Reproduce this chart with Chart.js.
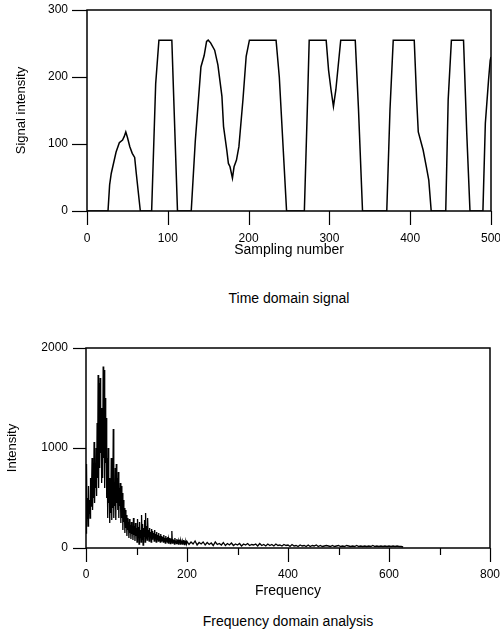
<!DOCTYPE html>
<html>
<head>
<meta charset="utf-8">
<script src="https://cdn.jsdelivr.net/npm/chart.js@4.4.0/dist/chart.umd.min.js"></script>
<style>
  body { margin: 0; background: #fff; width: 500px; height: 635px; position: relative; overflow: hidden;
         font-family: "Liberation Sans", Arial, sans-serif; }
  #timeChart { position: absolute; left: 0; top: 0; }
  #freqChart { position: absolute; left: 0; top: 330px; }
  .cap { position: absolute; font-size: 14px; line-height: 16px; color: #000; text-align: center; width: 404px; }
</style>
</head>
<body>
<canvas id="timeChart" width="500" height="260"></canvas>
<div class="cap" style="left:87px; top:290px;">Time domain signal</div>
<canvas id="freqChart" width="500" height="270"></canvas>
<div class="cap" style="left:86px; top:613px;">Frequency domain analysis</div>

<script>
// ==========================================
// 1. data
// ==========================================
// time domain: sampling number -> signal intensity (breakpoints of the trace)
const sampleNo = [0, 26, 28, 30, 36, 40, 44, 46, 48, 50, 53, 56, 59, 61, 66,
  80, 85, 89, 105, 107, 112,
  129, 134, 141, 145, 148, 150, 153, 158, 162, 167, 169, 173, 175, 177, 180, 182, 185, 188, 193, 197, 201,
  234, 238, 247,
  269, 273, 275, 296, 299, 302, 305, 308, 314, 332, 336, 341,
  371, 375, 379, 405, 408, 410, 416, 420, 423, 426,
  444, 447, 451, 466, 470, 474,
  490, 493, 497, 499, 500];
const signal = [0, 0, 39, 56, 88, 102, 106, 111, 118, 110, 96, 86, 80, 56, 0,
  0, 190, 255, 255, 181, 0,
  0, 104, 215, 232, 253, 255, 251, 240, 218, 171, 126, 91, 71, 66, 49, 66, 76, 96, 166, 231, 255,
  255, 200, 0,
  0, 166, 255, 255, 210, 181, 156, 181, 255, 255, 152, 0,
  0, 152, 255, 255, 166, 118, 91, 66, 46, 0,
  0, 166, 255, 255, 116, 0,
  0, 131, 196, 225, 230];
const timeTicks = [0, 100, 200, 300, 400, 500];
const signalTicks = [0, 100, 200, 300];

// frequency domain: intensity per frequency bin
// low part: one value per unit of frequency, from 0 to 199
const lowStart = 0, lowStep = 1;
const lowIntensity = [
  150, 840, 300, 500, 220, 620, 350, 480, 300, 700,
  420, 560, 900, 380, 640, 500, 1060, 450, 800, 600,
  1000, 520, 1250, 700, 1730, 600, 1650, 800, 1700, 950,
  1400, 650, 1100, 700, 1815, 900, 1780, 600, 1500, 850,
  1300, 500, 900, 300, 1000, 450, 700, 250, 600, 350,
  900, 280, 700, 400, 1190, 300, 650, 420, 800, 280,
  840, 450, 700, 380, 760, 300, 600, 420, 650, 250,
  620, 300, 550, 180, 480, 260, 400, 150, 380, 200,
  330, 120, 300, 180, 260, 100, 290, 150, 230, 90,
  260, 140, 210, 80, 300, 130, 220, 70, 250, 120,
  200, 60, 290, 140, 210, 40, 260, 110, 180, 60,
  330, 90, 240, 30, 200, 120, 280, 60, 350, 100,
  220, 80, 300, 130, 180, 70, 200, 110, 160, 60,
  190, 90, 170, 120, 150, 70, 180, 100, 140, 60,
  160, 90, 130, 70, 150, 80, 120, 60, 140, 70,
  120, 80, 110, 60, 130, 70, 100, 50, 120, 70,
  100, 60, 110, 50, 90, 70, 100, 45, 95, 60,
  170, 50, 90, 60, 80, 40, 100, 55, 75, 45,
  90, 50, 80, 40, 70, 55, 85, 40, 70, 50,
  75, 40, 65, 50, 80, 35, 70, 45, 60, 40];
// high part: one value every 4 units, from 200 to 628
const highStart = 200, highStep = 4;
const highIntensity = [
  65, 35, 60, 40, 70, 30, 55, 40, 60, 30,
  55, 35, 50, 25, 60, 35, 45, 30, 55, 25,
  45, 30, 50, 25, 40, 30, 45, 20, 40, 30,
  45, 25, 35, 30, 40, 20, 45, 25, 35, 20,
  40, 25, 35, 20, 40, 25, 30, 20, 35, 25,
  30, 15, 35, 20, 25, 15, 30, 20, 25, 15,
  30, 15, 25, 20, 30, 15, 25, 15, 20, 25,
  20, 15, 25, 15, 20, 25, 15, 20, 15, 25,
  20, 15, 20, 15, 25, 15, 20, 15, 20, 15,
  20, 15, 25, 15, 20, 15, 20, 15, 20, 15,
  20, 15, 20, 15, 20, 15, 15, 10];
const freqTicks = [0, 200, 400, 600, 800];
const freqMinorTicks = [100, 300, 500, 700];
const intensityTicks = [0, 1000, 2000];

// ==========================================
// 2. shared helpers
// ==========================================
const FONT = '"Liberation Sans", Arial, sans-serif';

// frame round the plot area + tick marks drawn outward
const framePlugin = {
  id: 'frame',
  afterDraw(chart, args, opts) {
    const { ctx, chartArea: a, scales } = chart;
    ctx.save();
    ctx.strokeStyle = '#000';
    ctx.lineWidth = 1.5;
    ctx.strokeRect(a.left, a.top, a.right - a.left, a.bottom - a.top);

    ctx.lineWidth = 1.2;
    const tickX = (v, len) => {
      const px = Math.round(scales.x.getPixelForValue(v)) + 0.5;
      ctx.beginPath(); ctx.moveTo(px, a.bottom); ctx.lineTo(px, a.bottom + len); ctx.stroke();
    };
    const tickY = (v, len) => {
      const py = Math.round(scales.y.getPixelForValue(v)) + 0.5;
      ctx.beginPath(); ctx.moveTo(a.left, py); ctx.lineTo(a.left - len, py); ctx.stroke();
    };
    opts.xTicks.forEach(v => tickX(v, opts.xLen));
    (opts.minor || []).forEach(v => tickX(v, 7));
    opts.yTicks.forEach(v => tickY(v, opts.yLen));
    ctx.restore();
  }
};

function makeChart(id, pts, cfg) {
  return new Chart(document.getElementById(id), {
    type: 'line',
    data: {
      datasets: [{
        data: pts,
        borderColor: '#000',
        borderWidth: cfg.lineWidth,
        pointRadius: 0,
        tension: 0,
        fill: false
      }]
    },
    options: {
      responsive: false,
      animation: false,
      devicePixelRatio: 1,
      layout: { padding: cfg.padding },
      plugins: {
        legend: { display: false },
        tooltip: { enabled: false },
        frame: { xTicks: cfg.xTicks, yTicks: cfg.yTicks, xLen: 14, yLen: cfg.yTickLen, minor: cfg.minor }
      },
      scales: {
        x: {
          type: 'linear', min: cfg.xMin, max: cfg.xMax,
          afterBuildTicks: s => { s.ticks = cfg.xTicks.map(v => ({ value: v })); },
          afterFit: s => { s.height = cfg.xHeight; s.paddingLeft = 0; s.paddingRight = 0; },
          border: { display: false },
          grid: { display: false, drawTicks: false },
          ticks: { color: '#000', font: { family: FONT, size: 12 }, padding: 14 + cfg.xPad,
                   maxRotation: 0, autoSkip: false, callback: v => String(v) },
          title: { display: true, text: cfg.xTitle, color: '#000', font: { family: FONT, size: 14 },
                   padding: { top: 0, bottom: cfg.xTitlePad } }
        },
        y: {
          min: cfg.yMin, max: cfg.yMax,
          afterBuildTicks: s => { s.ticks = cfg.yTicks.map(v => ({ value: v })); },
          afterFit: s => { s.width = cfg.yWidth; s.paddingTop = 0; s.paddingBottom = 0; },
          border: { display: false },
          grid: { display: false, drawTicks: false },
          ticks: { color: '#000', font: { family: FONT, size: 12 }, padding: cfg.yTickLen + cfg.yPad,
                   callback: v => String(v) },
          title: { display: true, text: cfg.yTitle, color: '#000', font: { family: FONT, size: 13 },
                   padding: { top: cfg.yTitlePad, bottom: 0 } }
        }
      }
    },
    plugins: [framePlugin]
  });
}

// ==========================================
// 3. time domain signal
// ==========================================
makeChart('timeChart', sampleNo.map((s, i) => ({ x: s, y: signal[i] })), {
  lineWidth: 1.5,
  padding: { top: 10, right: 9, bottom: 0, left: 0 },
  xMin: 0, xMax: 500, xTicks: timeTicks, xHeight: 49, xPad: 6, xTitle: 'Sampling number', xTitlePad: 1,
  yMin: 0, yMax: 300, yTicks: signalTicks, yWidth: 87, yTickLen: 15, yPad: 4,
  yTitle: 'Signal intensity', yTitlePad: 14
});

// ==========================================
// 4. frequency domain analysis
// ==========================================
const spectrum = lowIntensity.map((v, i) => ({ x: lowStart + i * lowStep, y: v }))
  .concat(highIntensity.map((v, i) => ({ x: highStart + i * highStep, y: v })));

makeChart('freqChart', spectrum, {
  lineWidth: 1.3,
  padding: { top: 18, right: 10, bottom: 0, left: 0 },
  xMin: 0, xMax: 800, xTicks: freqTicks, xHeight: 52, xPad: 5, xTitle: 'Frequency', xTitlePad: 0,
  yMin: 0, yMax: 2000, yTicks: intensityTicks, yWidth: 86, yTickLen: 13, yPad: 5,
  yTitle: 'Intensity', yTitlePad: 5,
  minor: freqMinorTicks
});
</script>
</body>
</html>
